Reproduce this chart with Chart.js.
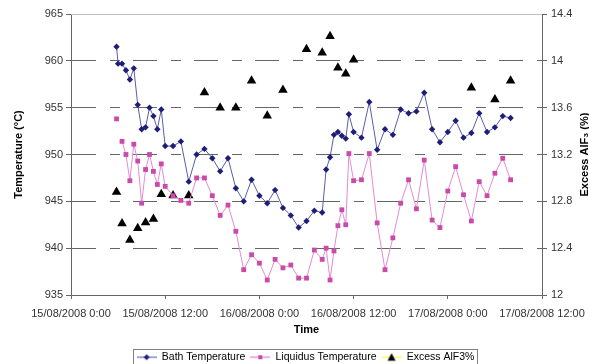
<!DOCTYPE html>
<html>
<head>
<meta charset="utf-8">
<script src="https://cdn.jsdelivr.net/npm/chart.js@4.4.0/dist/chart.umd.min.js"></script>
<style>
  html, body { margin: 0; padding: 0; background: #fff; }
  #wrap { width: 589px; height: 364px; }
</style>
</head>
<body>
<div id="wrap"><canvas id="chart" width="589" height="364"></canvas></div>
<script>
// sample times, in hours after 15/08/2008 0:00
const sampleHours = [5.8, 6, 6.5, 7, 7.5, 8, 8.5, 9, 9.5, 10, 10.5, 11, 11.5, 12,
    13, 14, 15, 16, 17, 18, 19, 20, 21, 22, 23, 24, 25, 26, 27, 28, 29, 30, 31, 32,
    32.5, 33, 33.5, 34, 34.5, 35, 35.4, 36,
    37, 38, 39, 40, 41, 42, 43, 44, 45, 46, 47, 48, 49, 50, 51, 52, 53, 54, 55, 56];

const bathTemp = [961.5, 959.7, 959.7, 959.0, 958.0, 959.2, 955.3, 952.7, 952.9, 955.0, 954.1, 952.7, 954.8, 950.9,
    950.9, 951.4, 947.1, 950.0, 950.6, 949.6, 948.2, 949.6, 946.4, 945.0, 947.3, 945.6, 944.8, 946.2, 944.3, 943.5, 942.2, 942.9, 944.0, 943.8,
    948.4, 949.7, 952.1, 952.4, 952.0, 951.7, 954.3, 952.4,
    951.8, 955.6, 950.5, 952.7, 952.1, 954.8, 954.4, 954.6, 956.6, 952.7, 951.3, 952.4, 953.6, 951.8, 952.3, 954.4, 952.4, 952.9, 954.1, 953.9];

const liquidusTemp = [953.8, null, 951.4, 950.0, 947.2, 951.1, 949.3, 944.8, 948.4, 950.0, 948.2, 946.8, 949.0, 946.6,
    945.6, 945.1, 944.8, 947.5, 947.5, 945.6, 943.5, 944.6, 941.8, 937.7, 939.3, 938.4, 936.6, 938.8, 937.9, 938.2, 936.8, 936.8, 939.8, 938.8,
    940.0, 936.6, 939.7, 942.4, 944.1, 942.5, 950.1, 947.2,
    947.3, 950.1, 942.7, 937.7, 941.1, 944.8, 947.3, 944.2, 949.4, 943.0, 942.2, 946.1, 948.7, 945.7, 942.9, 947.1, 945.6, 948.0, 949.6, 947.3];

const alfHours = [5.8, 6.5, 7.5, 8.5, 9.5, 10.5, 11.5, 13, 15, 17, 19, 21, 23, 25, 27, 30, 32, 33, 34, 35, 36, 51, 54, 56];
const alfExcess = [12.88, 12.61, 12.47, 12.57, 12.62, 12.65, 12.86, 12.85, 12.85, 13.73, 13.60, 13.60, 13.83, 13.53, 13.75,
    14.10, 14.07, 14.21, 13.94, 13.89, 14.01, 13.77, 13.67, 13.83];

const seriesNames = ['Bath Temperature', 'Liquidus Temperature', 'Excess AlF3%'];
const timeTicks = [0, 12, 24, 36, 48, 60];
const tempTicks = [935, 940, 945, 950, 955, 960, 965];
const alfTicks = [12, 12.4, 12.8, 13.2, 13.6, 14, 14.4];

Chart.defaults.font.family = '"Liberation Sans", Arial, sans-serif';
Chart.defaults.font.size = 11;
Chart.defaults.color = '#333';

const pts = (xs, ys) => xs.map((x, i) => ({x: x, y: ys[i]}));

function timeLabel(h) {
    const day = 15 + Math.floor(h / 24);
    return day + '/08/2008 ' + (h % 24) + ':00';
}

// little line+marker pictures for the legend
function legendMark(lineColor, marker) {
    const c = document.createElement('canvas');
    c.width = 20; c.height = 10;
    const g = c.getContext('2d');
    g.strokeStyle = lineColor;
    g.lineWidth = 2;
    g.beginPath(); g.moveTo(0, 5); g.lineTo(20, 5); g.stroke();
    g.fillStyle = marker.color;
    g.beginPath();
    if (marker.kind === 'diamond') {
        g.moveTo(10, 2); g.lineTo(13, 5); g.lineTo(10, 8); g.lineTo(7, 5);
    } else if (marker.kind === 'square') {
        g.rect(8, 3, 4, 4);
    } else {
        g.moveTo(10, 1); g.lineTo(14, 8.5); g.lineTo(6, 8.5);
    }
    g.closePath(); g.fill();
    return c;
}
const legendMarks = [
    legendMark('#a4a4d2', {kind: 'diamond', color: '#1e1e78'}),
    legendMark('#eeb2e2', {kind: 'square', color: '#c94aa9'}),
    legendMark('#ffff88', {kind: 'triangle', color: '#000'})
];

const frame = {
    id: 'frame',
    afterLayout(chart) {
        const lg = chart.legend;
        const h = lg.height;
        lg.top = 347;
        lg.bottom = lg.top + h;
        lg.left = 11;
        lg.right = 11 + lg.width;
    },
    afterDraw(chart) {
        const ctx = chart.ctx, a = chart.chartArea;
        ctx.save();
        // plot top border
        ctx.strokeStyle = '#c0c0c0';
        ctx.lineWidth = 1;
        ctx.beginPath();
        ctx.moveTo(a.left, a.top + 0.5);
        ctx.lineTo(a.right, a.top + 0.5);
        ctx.stroke();
        // legend box
        const hb = chart.legend.legendHitBoxes;
        if (hb && hb.length) {
            const last = hb[hb.length - 1];
            const x0 = Math.round(hb[0].left) - 3.5;
            const x1 = Math.round(last.left + last.width) + 3.5;
            const y0 = Math.round(hb[0].top) - 2.5;
            const y1 = Math.round(hb[0].top + hb[0].height) + 2.5;
            ctx.strokeStyle = '#808080';
            ctx.strokeRect(x0, y0, x1 - x0, y1 - y0);
        }
        // right axis title, reading upwards
        ctx.translate(585, (a.top + a.bottom) / 2);
        ctx.rotate(-Math.PI / 2);
        ctx.fillStyle = '#000';
        ctx.font = 'bold 11px "Liberation Sans", Arial, sans-serif';
        ctx.textAlign = 'center';
        ctx.textBaseline = 'middle';
        ctx.fillText('Excess AlF\u2083 (%)', 0, 0);
        ctx.restore();
    }
};

const ctx = document.getElementById('chart').getContext('2d');
new Chart(ctx, {
    type: 'line',
    data: {
        datasets: [{
            label: seriesNames[0],
            data: pts(sampleHours, bathTemp),
            yAxisID: 'y',
            borderColor: '#5c5ca8',
            borderWidth: 1,
            pointStyle: 'rectRot',
            pointRadius: 3.2,
            pointBackgroundColor: '#1e1e78',
            pointBorderColor: '#1e1e78',
            pointBorderWidth: 0
        }, {
            label: seriesNames[1],
            data: pts(sampleHours, liquidusTemp),
            yAxisID: 'y',
            borderColor: '#e38bd0',
            borderWidth: 1,
            pointStyle: 'rect',
            pointRadius: 3.4,
            pointBackgroundColor: '#c94aa9',
            pointBorderColor: '#c94aa9',
            pointBorderWidth: 0
        }, {
            label: seriesNames[2],
            data: pts(alfHours, alfExcess),
            yAxisID: 'y2',
            showLine: false,
            borderColor: '#ffff88',
            pointStyle: 'triangle',
            pointRadius: 5.5,
            pointBackgroundColor: '#000',
            pointBorderColor: '#000',
            pointBorderWidth: 0
        }]
    },
    options: {
        responsive: false,
        animation: false,
        layout: { padding: { left: 0, right: 0, top: 14, bottom: 0 } },
        scales: {
            x: {
                type: 'linear',
                min: 0, max: 60,
                afterBuildTicks: s => { s.ticks = timeTicks.map(v => ({value: v})); },
                afterFit: s => { s.height = s.chart.height - s.chart.legend.height - 295; },
                ticks: { callback: v => timeLabel(v), maxRotation: 0, autoSkip: false, padding: 3, color: '#333',
                    font: { size: 11, lineHeight: 2.1 } },
                grid: { drawOnChartArea: false, tickLength: 4, color: '#666' },
                border: { color: '#666' },
                title: { display: true, text: 'Time', color: '#000',
                    font: { size: 11, weight: 'bold', lineHeight: 1 }, padding: { top: 0, bottom: 3 } }
            },
            y: {
                position: 'left',
                min: 935, max: 965,
                afterBuildTicks: s => { s.ticks = tempTicks.map(v => ({value: v})); },
                afterFit: s => { s.width = 71; },
                ticks: { padding: 3, color: '#333' },
                grid: {
                    color: c => c.tick && c.tick.value === 965 ? 'rgba(0,0,0,0)' : '#666',
                    tickColor: '#666', tickLength: 5, tickBorderDash: []
                },
                border: { color: '#666', dash: [24, 14, 10, 13] },
                title: { display: true, text: 'Temperature (\u00b0C)', color: '#000',
                    font: { size: 11, weight: 'bold', lineHeight: 1 }, padding: { top: 13 } }
            },
            y2: {
                position: 'right',
                min: 12, max: 14.4,
                afterBuildTicks: s => { s.ticks = alfTicks.map(v => ({value: v})); },
                afterFit: s => { s.width = 47; },
                ticks: { padding: 4, color: '#333', callback: v => String(+v.toFixed(1)) },
                grid: { drawOnChartArea: false, tickLength: 5, color: '#666' },
                border: { color: '#666' }
            }
        },
        plugins: {
            tooltip: { enabled: false },
            legend: {
                position: 'bottom',
                labels: {
                    usePointStyle: true,
                    pointStyleWidth: 20,
                    padding: 5,
                    color: '#000',
                    font: { size: 10.5 },
                    generateLabels(chart) {
                        const items = Chart.defaults.plugins.legend.labels.generateLabels(chart);
                        items.forEach((it, i) => { it.pointStyle = legendMarks[i]; it.lineWidth = 0; });
                        return items;
                    }
                }
            }
        }
    },
    plugins: [frame]
});
</script>
</body>
</html>
